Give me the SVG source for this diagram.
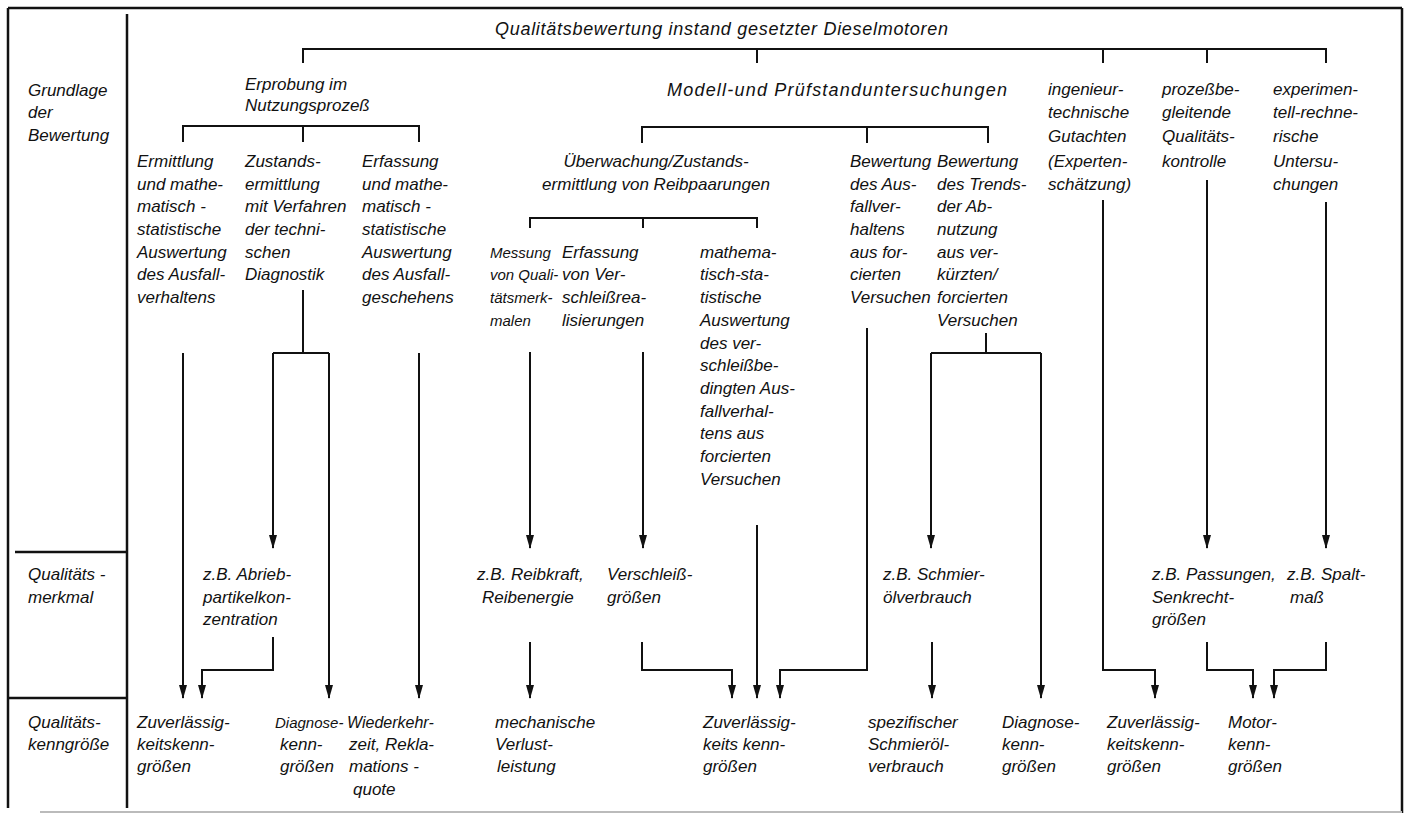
<svg xmlns="http://www.w3.org/2000/svg" width="1407" height="814" viewBox="0 0 1407 814">
<defs>
<marker id="ah" viewBox="0 0 14 8" refX="13" refY="4" markerWidth="14" markerHeight="8" markerUnits="userSpaceOnUse" orient="auto"><path d="M0,0 L14,4 L0,8 z" fill="#111"/></marker>
<style>
text { font-family: "Liberation Sans", Arial, sans-serif; font-style: italic; font-size: 17px; fill: #111; }
.t { font-size: 18px; }
.s { font-size: 15px; }
.m { font-size: 16px; }
.frame { stroke: #111; stroke-width: 2.5; fill: none; }
.c { stroke: #111; stroke-width: 2; fill: none; }
.a { stroke: #111; stroke-width: 2; fill: none; marker-end: url(#ah); }
</style>
</defs>
<rect x="0" y="0" width="1407" height="814" fill="#fff"/>
<g id="frame">
<path class="frame" d="M8,8 H1402 M8,8 V808 M1402,8 V813 M127,14 V808 M15,552 H127 M8,698 H127"/>
<path d="M40,812 H1402" stroke="#bbb" stroke-width="2" fill="none"/>
</g>
<g id="title"><text class="t" x="495" y="35" textLength="453" lengthAdjust="spacing">Qualitätsbewertung instand gesetzter Dieselmotoren</text></g>
<g id="row-grundlage"><text x="28" y="96">Grundlage</text><text x="28" y="118">der</text><text x="28" y="141">Bewertung</text></g>
<g id="row-merkmal"><text x="28" y="580">Qualitäts -</text><text x="28" y="603">merkmal</text></g>
<g id="row-kenngroesse"><text x="28" y="728">Qualitäts-</text><text x="28" y="750">kenngröße</text></g>
<g id="erprobung"><text x="245" y="90">Erprobung im</text><text x="245" y="111">Nutzungsprozeß</text></g>
<g id="modell"><text class="t" x="667" y="96" textLength="340" lengthAdjust="spacing">Modell-und Prüfstanduntersuchungen</text></g>
<g id="ingenieur"><text x="1048" y="95">ingenieur-</text><text x="1048" y="118">technische</text><text x="1048" y="142">Gutachten</text><text x="1048" y="167">(Experten-</text><text x="1048" y="190">schätzung)</text></g>
<g id="prozess"><text x="1162" y="95">prozeßbe-</text><text x="1162" y="118">gleitende</text><text x="1162" y="142">Qualitäts-</text><text x="1162" y="167">kontrolle</text></g>
<g id="experiment"><text x="1273" y="95">experimen-</text><text x="1273" y="118">tell-rechne-</text><text x="1273" y="142">rische</text><text x="1273" y="167">Untersu-</text><text x="1273" y="190">chungen</text></g>
<g id="ermittlung"><text x="137" y="167">Ermittlung</text><text x="137" y="190">und mathe-</text><text x="137" y="212">matisch -</text><text x="137" y="235">statistische</text><text x="137" y="258">Auswertung</text><text x="137" y="280">des Ausfall-</text><text x="137" y="303">verhaltens</text></g>
<g id="zustand"><text x="245" y="167">Zustands-</text><text x="245" y="190">ermittlung</text><text x="245" y="212">mit Verfahren</text><text x="245" y="235">der techni-</text><text x="245" y="258">schen</text><text x="245" y="280">Diagnostik</text></g>
<g id="erfassung"><text x="362" y="167">Erfassung</text><text x="362" y="190">und mathe-</text><text x="362" y="212">matisch -</text><text x="362" y="235">statistische</text><text x="362" y="258">Auswertung</text><text x="362" y="280">des Ausfall-</text><text x="362" y="303">geschehens</text></g>
<g id="ueberwachung"><text x="656" y="167" text-anchor="middle">Überwachung/Zustands-</text><text x="656" y="190" text-anchor="middle">ermittlung von Reibpaarungen</text></g>
<g id="messung"><text class="s" x="490" y="258">Messung</text><text class="s" x="490" y="280">von Quali-</text><text class="s" x="490" y="303">tätsmerk-</text><text class="s" x="490" y="326">malen</text></g>
<g id="verschleiss-erfassung"><text x="562" y="258">Erfassung</text><text x="562" y="280">von Ver-</text><text x="562" y="303">schleißrea-</text><text x="562" y="326">lisierungen</text></g>
<g id="mathema"><text x="700" y="258">mathema-</text><text x="700" y="280">tisch-sta-</text><text x="700" y="303">tistische</text><text x="700" y="326">Auswertung</text><text x="700" y="349">des ver-</text><text x="700" y="371">schleißbe-</text><text x="700" y="394">dingten Aus-</text><text x="700" y="417">fallverhal-</text><text x="700" y="439">tens aus</text><text x="700" y="462">forcierten</text><text x="700" y="485">Versuchen</text></g>
<g id="bew-ausfall"><text x="850" y="167">Bewertung</text><text x="850" y="190">des Aus-</text><text x="850" y="212">fallver-</text><text x="850" y="235">haltens</text><text x="850" y="258">aus for-</text><text x="850" y="280">cierten</text><text x="850" y="303">Versuchen</text></g>
<g id="bew-trend"><text x="937" y="167">Bewertung</text><text x="937" y="190">des Trends-</text><text x="937" y="212">der Ab-</text><text x="937" y="235">nutzung</text><text x="937" y="258">aus ver-</text><text x="937" y="280">kürzten/</text><text x="937" y="303">forcierten</text><text x="937" y="326">Versuchen</text></g>
<g id="m-abrieb"><text x="203" y="580">z.B. Abrieb-</text><text x="203" y="603">partikelkon-</text><text x="203" y="625">zentration</text></g>
<g id="m-reib"><text x="477" y="580">z.B. Reibkraft,</text><text x="482" y="603">Reibenergie</text></g>
<g id="m-verschleiss"><text x="607" y="580">Verschleiß-</text><text x="607" y="603">größen</text></g>
<g id="m-schmier"><text x="883" y="580">z.B. Schmier-</text><text x="883" y="603">ölverbrauch</text></g>
<g id="m-passungen"><text x="1152" y="580">z.B. Passungen,</text><text x="1152" y="603">Senkrecht-</text><text x="1152" y="625">größen</text></g>
<g id="m-spalt"><text x="1287" y="580">z.B. Spalt-</text><text x="1290" y="603">maß</text></g>
<g id="k-zuv1"><text x="137" y="728">Zuverlässig-</text><text x="137" y="750">keitskenn-</text><text x="137" y="772">größen</text></g>
<g id="k-diag1"><text class="s" x="275" y="728">Diagnose-</text><text x="280" y="750">kenn-</text><text x="280" y="772">größen</text></g>
<g id="k-wieder"><text class="m" x="347" y="728">Wiederkehr-</text><text x="349" y="750">zeit, Rekla-</text><text x="349" y="772">mations -</text><text x="353" y="795">quote</text></g>
<g id="k-mech"><text x="495" y="728">mechanische</text><text x="495" y="750">Verlust-</text><text x="497" y="772">leistung</text></g>
<g id="k-zuv2"><text x="703" y="728">Zuverlässig-</text><text x="703" y="750">keits kenn-</text><text x="703" y="772">größen</text></g>
<g id="k-spez"><text x="868" y="728">spezifischer</text><text x="868" y="750">Schmieröl-</text><text x="868" y="772">verbrauch</text></g>
<g id="k-diag2"><text x="1002" y="728">Diagnose-</text><text x="1002" y="750">kenn-</text><text x="1002" y="772">größen</text></g>
<g id="k-zuv3"><text x="1107" y="728">Zuverlässig-</text><text x="1107" y="750">keitskenn-</text><text x="1107" y="772">größen</text></g>
<g id="k-motor"><text x="1228" y="728">Motor-</text><text x="1228" y="750">kenn-</text><text x="1228" y="772">größen</text></g>
<g id="connectors">
<path class="c" d="M303,63 V49 H1326 V63 M757,49 V63 M1103,49 V63 M1207,49 V63"/>
<path class="c" d="M183,142 V126 H419 V142 M303,126 V142"/>
<path class="c" d="M642,143 V127 H988 V143 M867,127 V143"/>
<path class="c" d="M530,228 V218 H757 V228 M643,218 V228"/>
<path class="c" d="M303,290 V353 M273,353 H329 M986,333 V353 M931,353 H1041"/>
<path class="a" d="M183,353 V698"/>
<path class="a" d="M273,353 V548"/>
<path class="a" d="M329,353 V698"/>
<path class="a" d="M419,353 V698"/>
<path class="a" d="M273,637 V670 H202 V698"/>
<path class="a" d="M530,352 V548"/>
<path class="a" d="M643,352 V548"/>
<path class="a" d="M530,642 V698"/>
<path class="a" d="M642,642 V670 H732 V698"/>
<path class="a" d="M757,525 V698"/>
<path class="a" d="M867,328 V670 H780 V698"/>
<path class="a" d="M931,353 V548"/>
<path class="a" d="M1041,353 V698"/>
<path class="a" d="M932,642 V698"/>
<path class="a" d="M1103,200 V670 H1155 V698"/>
<path class="a" d="M1207,180 V548"/>
<path class="a" d="M1207,642 V670 H1253 V698"/>
<path class="a" d="M1326,202 V548"/>
<path class="a" d="M1326,642 V670 H1274 V698"/>
</g>
</svg>
